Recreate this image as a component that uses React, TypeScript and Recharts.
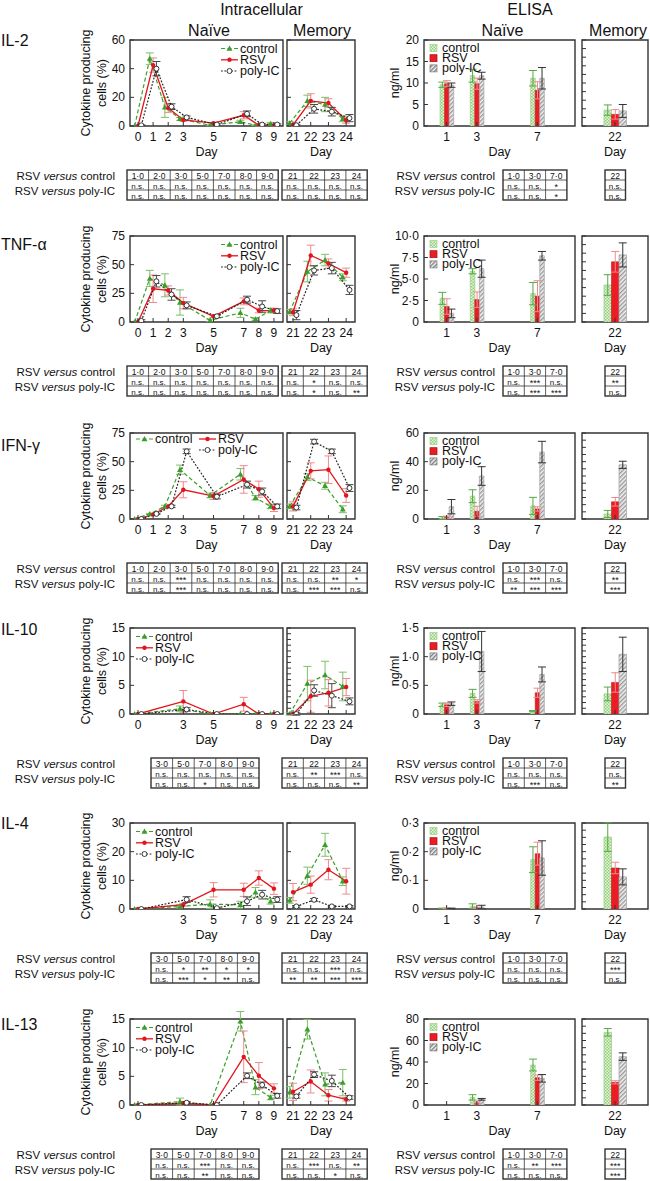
import React from 'react';
import { LineChart, Line, BarChart, Bar, XAxis, YAxis, ErrorBar, ReferenceArea } from 'recharts';

const FONT = '"Liberation Sans", Arial, Helvetica, sans-serif';
const INK = '#111111';
const FRAME = '#333333';
const GREEN = '#3c9d2b';
const GREEN_ERR = '#7cc06a';
const RED = '#e3141b';
const RED_ERR = '#ee8a8e';
const BLACK = '#222222';
const BLACK_ERR = '#4a4a4a';

// ---------- days / categories ----------
const NAIVE_DAYS_FULL = [0, 1, 2, 3, 5, 7, 8, 9];
const NAIVE_DAYS_PART = [0, 3, 5, 7, 8, 9];
const MEMORY_DAYS = [21, 22, 23, 24];
const ELISA_AXIS_DAYS = [0, 1, 2, 3, 4, 5, 6, 7, 8, 9];
const ELISA_DAYS = [1, 3, 7];
const ELISA_MEMORY_DAYS = [22];

// ---------- tick labels ----------
const X_TICKS_FULL = [0, 1, 2, 3, 5, 7, 8, 9];
const X_TICKS_IL10 = [0, 3, 5, 8, 9];
const X_TICKS_IL4 = [3, 5, 7, 8, 9];
const X_TICKS_IL13 = [0, 3, 5, 7, 8, 9];
const X_TICKS_MEMORY = [21, 22, 23, 24];

const IL2_Y_TICKS = [0, 20, 40, 60];
const TNF_Y_TICKS = [0, 25, 50, 75];
const IFN_Y_TICKS = [0, 25, 50, 75];
const IL10_Y_TICKS = [0, 5, 10, 15];
const IL4_Y_TICKS = [0, 10, 20, 30];
const IL13_Y_TICKS = [0, 5, 10, 15];

const IL2_EL_TICKS = [0, 5, 10, 15, 20];
const TNF_EL_TICKS = [0, 2.5, 5, 7.5, 10];
const IFN_EL_TICKS = [0, 20, 40, 60];
const IL10_EL_TICKS = [0, 0.5, 1, 1.5];
const IL4_EL_TICKS = [0, 0.1, 0.2, 0.3];
const IL13_EL_TICKS = [0, 20, 40, 60, 80];

// ---------- IL-2 ----------
const IL2_N_CTL = [0, 47, 13, 5, 0.5, 3, 0.5, 1.5];
const IL2_N_CTL_E = [0, 4, 7, 1, 0.3, 1, 0.3, 1];
const IL2_N_RSV = [0, 42.5, 12.5, 4.2, 2, 7.5, 0.5, 0.5];
const IL2_N_RSV_E = [0, 5, 3, 1, 0.5, 2.5, 0.3, 0.3];
const IL2_N_POLY = [0.5, 40, 13.5, 6, 1, 8.5, 1, 1];
const IL2_N_POLY_E = [0.3, 5, 2, 1, 0.5, 2, 0.5, 0.5];
const IL2_M_CTL = [2, 17.5, 15, 5];
const IL2_M_CTL_E = [1, 4, 5, 2];
const IL2_M_RSV = [0.7, 17.5, 16, 4];
const IL2_M_RSV_E = [0.5, 5, 3, 2];
const IL2_M_POLY = [0.5, 12, 10, 5.5];
const IL2_M_POLY_E = [0.3, 3, 3, 2.5];
const IL2_E_CTL = [9.6, 11.7, 11.1];
const IL2_E_CTL_E = [0.6, 1.5, 1.8];
const IL2_E_RSV = [9.85, 9.85, 8.3];
const IL2_E_RSV_E = [0.7, 1.3, 2];
const IL2_E_POLY = [9.5, 11.7, 11.1];
const IL2_E_POLY_E = [0.5, 0.8, 2.5];
const IL2_EM_CTL = [3.7];
const IL2_EM_CTL_E = [1.2];
const IL2_EM_RSV = [2.7];
const IL2_EM_RSV_E = [1.1];
const IL2_EM_POLY = [3.5];
const IL2_EM_POLY_E = [1.5];

// ---------- TNF-α ----------
const TNF_N_CTL = [0, 38, 32, 17, 1.5, 8, 2.5, 10];
const TNF_N_CTL_E = [0, 7, 10, 11, 1, 4, 1, 2];
const TNF_N_RSV = [0, 29, 27.5, 16.5, 5, 18, 10, 10];
const TNF_N_RSV_E = [0, 12, 4, 5, 1, 3, 2, 2];
const TNF_N_POLY = [1, 35.5, 24, 14.5, 5, 19.5, 13.5, 9.5];
const TNF_N_POLY_E = [1, 5, 5, 3, 1, 3, 5, 2];
const TNF_M_CTL = [9, 44, 54, 39];
const TNF_M_CTL_E = [2, 9, 5, 3];
const TNF_M_RSV = [8.5, 58, 51, 43];
const TNF_M_RSV_E = [3, 9, 4, 4];
const TNF_M_POLY = [6, 45, 47, 28];
const TNF_M_POLY_E = [4, 4, 5, 4];
const TNF_E_CTL = [2.75, 5.9, 3.3];
const TNF_E_CTL_E = [0.7, 0.3, 1.3];
const TNF_E_RSV = [1.8, 2.6, 3.0];
const TNF_E_RSV_E = [0.9, 0.9, 1.8];
const TNF_E_POLY = [1.0, 6.2, 7.7];
const TNF_E_POLY_E = [0.5, 1.0, 0.5];
const TNF_EM_CTL = [4.3];
const TNF_EM_CTL_E = [1.2];
const TNF_EM_RSV = [7.0];
const TNF_EM_RSV_E = [1.2];
const TNF_EM_POLY = [7.8];
const TNF_EM_POLY_E = [1.4];

// ---------- IFN-γ ----------
const IFN_N_CTL = [0, 4.4, 11, 43, 20.5, 39, 18.5, 11];
const IFN_N_CTL_E = [0, 0.5, 1, 4, 2, 5, 2, 2];
const IFN_N_RSV = [0, 4, 11, 25.5, 20, 34.5, 26, 9.5];
const IFN_N_RSV_E = [0, 0.5, 1, 7, 3, 12, 7, 3];
const IFN_N_POLY = [0, 4.5, 11, 59, 19.5, 30, 24, 11];
const IFN_N_POLY_E = [0, 0.5, 1, 2, 2, 3, 3, 2];
const IFN_M_CTL = [11, 36.5, 29, 8.5];
const IFN_M_CTL_E = [2, 3, 3, 3];
const IFN_M_RSV = [11, 42, 43, 20.5];
const IFN_M_RSV_E = [4, 7, 12, 6];
const IFN_M_POLY = [10, 67.5, 59, 27];
const IFN_M_POLY_E = [2, 2, 2, 3];
const IFN_E_CTL = [0.7, 15.9, 9.1];
const IFN_E_CTL_E = [1, 4.5, 6];
const IFN_E_RSV = [1.2, 5.4, 7];
const IFN_E_RSV_E = [0.8, 3.5, 1.5];
const IFN_E_POLY = [8.6, 30, 46.7];
const IFN_E_POLY_E = [5, 6.5, 7.5];
const IFN_EM_CTL = [3.5];
const IFN_EM_CTL_E = [2.5];
const IFN_EM_RSV = [12];
const IFN_EM_RSV_E = [3];
const IFN_EM_POLY = [37.8];
const IFN_EM_POLY_E = [2.5];

// ---------- IL-10 ----------
const IL10_N_CTL = [0, 0.9, 0, 0, 0, 0];
const IL10_N_CTL_E = [0, 0.5, 0, 0, 0, 0];
const IL10_N_RSV = [0, 2.2, 0, 1.7, 0, 0];
const IL10_N_RSV_E = [0, 1.9, 0, 1.2, 0, 0];
const IL10_N_POLY = [0, 0.8, 0, 0, 0, 0];
const IL10_N_POLY_E = [0, 0.3, 0, 0, 0, 0];
const IL10_M_CTL = [0, 5.3, 6.8, 4.8];
const IL10_M_CTL_E = [0.2, 3, 2.4, 2.5];
const IL10_M_RSV = [0, 3.1, 3.7, 4.7];
const IL10_M_RSV_E = [0.2, 2.8, 2.3, 1.5];
const IL10_M_POLY = [0, 4.1, 3.2, 2.2];
const IL10_M_POLY_E = [0.2, 1, 2.1, 0.6];
const IL10_E_CTL = [0.16, 0.36, 0.05];
const IL10_E_CTL_E = [0.03, 0.07, 0.01];
const IL10_E_RSV = [0.16, 0.22, 0.37];
const IL10_E_RSV_E = [0.03, 0.03, 0.08];
const IL10_E_POLY = [0.18, 1.09, 0.69];
const IL10_E_POLY_E = [0.03, 0.35, 0.13];
const IL10_EM_CTL = [0.35];
const IL10_EM_CTL_E = [0.12];
const IL10_EM_RSV = [0.55];
const IL10_EM_RSV_E = [0.17];
const IL10_EM_POLY = [1.04];
const IL10_EM_POLY_E = [0.3];

// ---------- IL-4 ----------
const IL4_N_CTL = [0, 0.9, 1.7, 1.5, 5.8, 2.7];
const IL4_N_CTL_E = [0, 0.5, 1.5, 1.2, 1.7, 1];
const IL4_N_RSV = [0, 1.5, 6.7, 6.7, 10.8, 7.1];
const IL4_N_RSV_E = [0, 0.5, 2.5, 2.3, 2.5, 2];
const IL4_N_POLY = [0, 3.3, 0.3, 2.7, 5, 3.3];
const IL4_N_POLY_E = [0, 1, 0.3, 1.5, 1.5, 1];
const IL4_M_CTL = [3, 11.6, 22.4, 9.7];
const IL4_M_CTL_E = [1, 3, 4, 1.5];
const IL4_M_RSV = [5.9, 8.5, 13.7, 9.7];
const IL4_M_RSV_E = [3, 3, 3.5, 4.5];
const IL4_M_POLY = [0.9, 3.2, 0.9, 0.9];
const IL4_M_POLY_E = [0.3, 0.5, 0.3, 0.3];
const IL4_E_CTL = [0.002, 0.01, 0.172];
const IL4_E_CTL_E = [0.001, 0.008, 0.045];
const IL4_E_RSV = [0.002, 0.004, 0.193];
const IL4_E_RSV_E = [0.001, 0.002, 0.04];
const IL4_E_POLY = [0.002, 0.007, 0.178];
const IL4_E_POLY_E = [0.001, 0.006, 0.06];
const IL4_EM_CTL = [0.251];
const IL4_EM_CTL_E = [0.05];
const IL4_EM_RSV = [0.143];
const IL4_EM_RSV_E = [0.02];
const IL4_EM_POLY = [0.112];
const IL4_EM_POLY_E = [0.028];

// ---------- IL-13 ----------
const IL13_N_CTL = [0, 0.6, 0, 14.6, 3.1, 1.3];
const IL13_N_CTL_E = [0, 0.6, 0, 1.7, 1.3, 0.4];
const IL13_N_RSV = [0, 0.3, 0, 8.4, 5.1, 2.9];
const IL13_N_RSV_E = [0, 0.2, 0, 4.5, 2.3, 0.8];
const IL13_N_POLY = [0, 0.4, 0, 5.1, 3.5, 1.6];
const IL13_N_POLY_E = [0, 0.2, 0, 0.5, 0.5, 0.4];
const IL13_M_CTL = [2.2, 13.2, 3.6, 3.9];
const IL13_M_CTL_E = [1, 1.7, 2, 2.3];
const IL13_M_RSV = [2.3, 4.1, 1.7, 1.0];
const IL13_M_RSV_E = [1.5, 2, 1, 0.3];
const IL13_M_POLY = [1.5, 5.3, 4.2, 1.3];
const IL13_M_POLY_E = [0.3, 0.5, 1, 0.3];
const IL13_E_CTL = [0, 7.1, 37.2];
const IL13_E_CTL_E = [0, 2.5, 5.5];
const IL13_E_RSV = [0, 1.9, 25.4];
const IL13_E_RSV_E = [0, 1, 2.5];
const IL13_E_POLY = [0, 5.3, 24.8];
const IL13_E_POLY_E = [0, 0.8, 3.5];
const IL13_EM_CTL = [67.6];
const IL13_EM_CTL_E = [3.5];
const IL13_EM_RSV = [21.1];
const IL13_EM_RSV_E = [1.5];
const IL13_EM_POLY = [45];
const IL13_EM_POLY_E = [3.5];

// ---------- significance tables ----------
const HEAD_NAIVE_FULL = ['1·0', '2·0', '3·0', '5·0', '7·0', '8·0', '9·0'];
const HEAD_NAIVE_PART = ['3·0', '5·0', '7·0', '8·0', '9·0'];
const HEAD_MEMORY = ['21', '22', '23', '24'];
const HEAD_ELISA = ['1·0', '3·0', '7·0'];
const HEAD_ELISA_MEMORY = ['22'];

const IL2_SIG_N_CTL = ['n.s.', 'n.s.', 'n.s.', 'n.s.', 'n.s.', 'n.s.', 'n.s.'];
const IL2_SIG_N_POLY = ['n.s.', 'n.s.', 'n.s.', 'n.s.', 'n.s.', 'n.s.', 'n.s.'];
const IL2_SIG_M_CTL = ['n.s.', 'n.s.', 'n.s.', 'n.s.'];
const IL2_SIG_M_POLY = ['n.s.', 'n.s.', 'n.s.', 'n.s.'];
const IL2_SIG_E_CTL = ['n.s.', 'n.s.', '*'];
const IL2_SIG_E_POLY = ['n.s.', 'n.s.', '*'];
const IL2_SIG_EM_CTL = ['n.s.'];
const IL2_SIG_EM_POLY = ['n.s.'];

const TNF_SIG_N_CTL = ['n.s.', 'n.s.', 'n.s.', 'n.s.', 'n.s.', 'n.s.', 'n.s.'];
const TNF_SIG_N_POLY = ['n.s.', 'n.s.', 'n.s.', 'n.s.', 'n.s.', 'n.s.', 'n.s.'];
const TNF_SIG_M_CTL = ['n.s.', '*', 'n.s.', 'n.s.'];
const TNF_SIG_M_POLY = ['n.s.', '*', 'n.s.', '**'];
const TNF_SIG_E_CTL = ['n.s.', '***', 'n.s.'];
const TNF_SIG_E_POLY = ['n.s.', '***', '***'];
const TNF_SIG_EM_CTL = ['**'];
const TNF_SIG_EM_POLY = ['n.s.'];

const IFN_SIG_N_CTL = ['n.s.', 'n.s.', '***', 'n.s.', 'n.s.', 'n.s.', 'n.s.'];
const IFN_SIG_N_POLY = ['n.s.', 'n.s.', '***', 'n.s.', 'n.s.', 'n.s.', 'n.s.'];
const IFN_SIG_M_CTL = ['n.s.', 'n.s.', '**', '*'];
const IFN_SIG_M_POLY = ['n.s.', '***', '***', 'n.s.'];
const IFN_SIG_E_CTL = ['n.s.', '***', 'n.s.'];
const IFN_SIG_E_POLY = ['**', '***', '***'];
const IFN_SIG_EM_CTL = ['**'];
const IFN_SIG_EM_POLY = ['***'];

const IL10_SIG_N_CTL = ['n.s.', 'n.s.', 'n.s.', 'n.s.', 'n.s.'];
const IL10_SIG_N_POLY = ['n.s.', 'n.s.', '*', 'n.s.', 'n.s.'];
const IL10_SIG_M_CTL = ['n.s.', '**', '***', 'n.s.'];
const IL10_SIG_M_POLY = ['n.s.', 'n.s.', 'n.s.', '**'];
const IL10_SIG_E_CTL = ['n.s.', 'n.s.', 'n.s.'];
const IL10_SIG_E_POLY = ['n.s.', '***', 'n.s.'];
const IL10_SIG_EM_CTL = ['n.s.'];
const IL10_SIG_EM_POLY = ['**'];

const IL4_SIG_N_CTL = ['n.s.', '*', '**', '*', '*'];
const IL4_SIG_N_POLY = ['n.s.', '***', '*', '**', 'n.s.'];
const IL4_SIG_M_CTL = ['n.s.', 'n.s.', '***', 'n.s.'];
const IL4_SIG_M_POLY = ['**', '**', '***', '***'];
const IL4_SIG_E_CTL = ['n.s.', 'n.s.', 'n.s.'];
const IL4_SIG_E_POLY = ['n.s.', 'n.s.', 'n.s.'];
const IL4_SIG_EM_CTL = ['***'];
const IL4_SIG_EM_POLY = ['n.s.'];

const IL13_SIG_N_CTL = ['n.s.', 'n.s.', '***', 'n.s.', 'n.s.'];
const IL13_SIG_N_POLY = ['n.s.', 'n.s.', '**', 'n.s.', 'n.s.'];
const IL13_SIG_M_CTL = ['n.s.', '***', 'n.s.', '**'];
const IL13_SIG_M_POLY = ['n.s.', 'n.s.', '*', 'n.s.'];
const IL13_SIG_E_CTL = ['n.s.', '**', '***'];
const IL13_SIG_E_POLY = ['n.s.', 'n.s.', 'n.s.'];
const IL13_SIG_EM_CTL = ['***'];
const IL13_SIG_EM_POLY = ['***'];

// ---------- layout ----------
const ROW_TOP = [40, 236, 433, 628, 823, 1019];
const BOX_H = 86;
const NAIVE_X = 130, NAIVE_W = 153;
const MEM_X = 287, MEM_W = 68;
const EL_X = 424, EL_W = 151;
const ELM_X = 582, ELM_W = 66;
const NAIVE_DOMAIN = [-0.53, 9.6];
const MEM_DOMAIN = [20.66, 24.5];
const AXW = 40, MT = 10, MR = 8, AXH = 40;

// ---------- helpers ----------
const nz = (v: number) => (v ? v : null);
function lineData(days: number[], c: number[], ce: number[], r: number[], re: number[], p: number[], pe: number[]) {
  return days.map((day, i) => ({ day, ctl: c[i], ctlE: nz(ce[i]), rsv: r[i], rsvE: nz(re[i]), poly: p[i], polyE: nz(pe[i]) }));
}
function barData(axisDays: number[], days: number[], c: number[], ce: number[], r: number[], re: number[], p: number[], pe: number[]) {
  return axisDays.map((day) => {
    const i = days.indexOf(day);
    if (i < 0) return { day, ctl: null, ctlE: null, rsv: null, rsvE: null, poly: null, polyE: null };
    return { day, ctl: c[i], ctlE: nz(ce[i]), rsv: r[i], rsvE: nz(re[i]), poly: p[i], polyE: nz(pe[i]) };
  });
}
const stepTicks = (max: number, n: number) => Array.from({ length: n + 1 }, (_, i) => (max * i) / n);
const fmtDec = (dec: number) => (v: number) => (v === 0 ? '0' : v.toFixed(dec).replace('.', '·'));

const PANELS = [
  {
    name: 'IL-2', labelY: 40, legend: 'right',
    nData: lineData(NAIVE_DAYS_FULL, IL2_N_CTL, IL2_N_CTL_E, IL2_N_RSV, IL2_N_RSV_E, IL2_N_POLY, IL2_N_POLY_E),
    mData: lineData(MEMORY_DAYS, IL2_M_CTL, IL2_M_CTL_E, IL2_M_RSV, IL2_M_RSV_E, IL2_M_POLY, IL2_M_POLY_E),
    eData: barData(ELISA_AXIS_DAYS, ELISA_DAYS, IL2_E_CTL, IL2_E_CTL_E, IL2_E_RSV, IL2_E_RSV_E, IL2_E_POLY, IL2_E_POLY_E),
    emData: barData(ELISA_MEMORY_DAYS, ELISA_MEMORY_DAYS, IL2_EM_CTL, IL2_EM_CTL_E, IL2_EM_RSV, IL2_EM_RSV_E, IL2_EM_POLY, IL2_EM_POLY_E),
    xTicks: X_TICKS_FULL, yTicks: IL2_Y_TICKS, memYTicks: IL2_Y_TICKS,
    elTicks: IL2_EL_TICKS, elDec: 0, elMemTicks: stepTicks(20, 10),
    sigHead: HEAD_NAIVE_FULL, sigN: [IL2_SIG_N_CTL, IL2_SIG_N_POLY], sigM: [IL2_SIG_M_CTL, IL2_SIG_M_POLY],
    sigE: [IL2_SIG_E_CTL, IL2_SIG_E_POLY], sigEM: [IL2_SIG_EM_CTL, IL2_SIG_EM_POLY],
  },
  {
    name: 'TNF-α', labelY: 244, legend: 'right',
    nData: lineData(NAIVE_DAYS_FULL, TNF_N_CTL, TNF_N_CTL_E, TNF_N_RSV, TNF_N_RSV_E, TNF_N_POLY, TNF_N_POLY_E),
    mData: lineData(MEMORY_DAYS, TNF_M_CTL, TNF_M_CTL_E, TNF_M_RSV, TNF_M_RSV_E, TNF_M_POLY, TNF_M_POLY_E),
    eData: barData(ELISA_AXIS_DAYS, ELISA_DAYS, TNF_E_CTL, TNF_E_CTL_E, TNF_E_RSV, TNF_E_RSV_E, TNF_E_POLY, TNF_E_POLY_E),
    emData: barData(ELISA_MEMORY_DAYS, ELISA_MEMORY_DAYS, TNF_EM_CTL, TNF_EM_CTL_E, TNF_EM_RSV, TNF_EM_RSV_E, TNF_EM_POLY, TNF_EM_POLY_E),
    xTicks: X_TICKS_FULL, yTicks: TNF_Y_TICKS, memYTicks: TNF_Y_TICKS,
    elTicks: TNF_EL_TICKS, elDec: 1, elMemTicks: stepTicks(10, 10),
    sigHead: HEAD_NAIVE_FULL, sigN: [TNF_SIG_N_CTL, TNF_SIG_N_POLY], sigM: [TNF_SIG_M_CTL, TNF_SIG_M_POLY],
    sigE: [TNF_SIG_E_CTL, TNF_SIG_E_POLY], sigEM: [TNF_SIG_EM_CTL, TNF_SIG_EM_POLY],
  },
  {
    name: 'IFN-γ', labelY: 445, legend: 'ifn',
    nData: lineData(NAIVE_DAYS_FULL, IFN_N_CTL, IFN_N_CTL_E, IFN_N_RSV, IFN_N_RSV_E, IFN_N_POLY, IFN_N_POLY_E),
    mData: lineData(MEMORY_DAYS, IFN_M_CTL, IFN_M_CTL_E, IFN_M_RSV, IFN_M_RSV_E, IFN_M_POLY, IFN_M_POLY_E),
    eData: barData(ELISA_AXIS_DAYS, ELISA_DAYS, IFN_E_CTL, IFN_E_CTL_E, IFN_E_RSV, IFN_E_RSV_E, IFN_E_POLY, IFN_E_POLY_E),
    emData: barData(ELISA_MEMORY_DAYS, ELISA_MEMORY_DAYS, IFN_EM_CTL, IFN_EM_CTL_E, IFN_EM_RSV, IFN_EM_RSV_E, IFN_EM_POLY, IFN_EM_POLY_E),
    xTicks: X_TICKS_FULL, yTicks: IFN_Y_TICKS, memYTicks: IFN_Y_TICKS,
    elTicks: IFN_EL_TICKS, elDec: 0, elMemTicks: stepTicks(60, 12),
    sigHead: HEAD_NAIVE_FULL, sigN: [IFN_SIG_N_CTL, IFN_SIG_N_POLY], sigM: [IFN_SIG_M_CTL, IFN_SIG_M_POLY],
    sigE: [IFN_SIG_E_CTL, IFN_SIG_E_POLY], sigEM: [IFN_SIG_EM_CTL, IFN_SIG_EM_POLY],
  },
  {
    name: 'IL-10', labelY: 629, legend: 'left',
    nData: lineData(NAIVE_DAYS_PART, IL10_N_CTL, IL10_N_CTL_E, IL10_N_RSV, IL10_N_RSV_E, IL10_N_POLY, IL10_N_POLY_E),
    mData: lineData(MEMORY_DAYS, IL10_M_CTL, IL10_M_CTL_E, IL10_M_RSV, IL10_M_RSV_E, IL10_M_POLY, IL10_M_POLY_E),
    eData: barData(ELISA_AXIS_DAYS, ELISA_DAYS, IL10_E_CTL, IL10_E_CTL_E, IL10_E_RSV, IL10_E_RSV_E, IL10_E_POLY, IL10_E_POLY_E),
    emData: barData(ELISA_MEMORY_DAYS, ELISA_MEMORY_DAYS, IL10_EM_CTL, IL10_EM_CTL_E, IL10_EM_RSV, IL10_EM_RSV_E, IL10_EM_POLY, IL10_EM_POLY_E),
    xTicks: X_TICKS_IL10, yTicks: IL10_Y_TICKS, memYTicks: stepTicks(15, 15),
    elTicks: IL10_EL_TICKS, elDec: 1, elMemTicks: stepTicks(1.5, 15),
    sigHead: HEAD_NAIVE_PART, sigN: [IL10_SIG_N_CTL, IL10_SIG_N_POLY], sigM: [IL10_SIG_M_CTL, IL10_SIG_M_POLY],
    sigE: [IL10_SIG_E_CTL, IL10_SIG_E_POLY], sigEM: [IL10_SIG_EM_CTL, IL10_SIG_EM_POLY],
  },
  {
    name: 'IL-4', labelY: 823, legend: 'left',
    nData: lineData(NAIVE_DAYS_PART, IL4_N_CTL, IL4_N_CTL_E, IL4_N_RSV, IL4_N_RSV_E, IL4_N_POLY, IL4_N_POLY_E),
    mData: lineData(MEMORY_DAYS, IL4_M_CTL, IL4_M_CTL_E, IL4_M_RSV, IL4_M_RSV_E, IL4_M_POLY, IL4_M_POLY_E),
    eData: barData(ELISA_AXIS_DAYS, ELISA_DAYS, IL4_E_CTL, IL4_E_CTL_E, IL4_E_RSV, IL4_E_RSV_E, IL4_E_POLY, IL4_E_POLY_E),
    emData: barData(ELISA_MEMORY_DAYS, ELISA_MEMORY_DAYS, IL4_EM_CTL, IL4_EM_CTL_E, IL4_EM_RSV, IL4_EM_RSV_E, IL4_EM_POLY, IL4_EM_POLY_E),
    xTicks: X_TICKS_IL4, yTicks: IL4_Y_TICKS, memYTicks: IL4_Y_TICKS,
    elTicks: IL4_EL_TICKS, elDec: 1, elMemTicks: stepTicks(0.3, 12),
    sigHead: HEAD_NAIVE_PART, sigN: [IL4_SIG_N_CTL, IL4_SIG_N_POLY], sigM: [IL4_SIG_M_CTL, IL4_SIG_M_POLY],
    sigE: [IL4_SIG_E_CTL, IL4_SIG_E_POLY], sigEM: [IL4_SIG_EM_CTL, IL4_SIG_EM_POLY],
  },
  {
    name: 'IL-13', labelY: 1024, legend: 'left',
    nData: lineData(NAIVE_DAYS_PART, IL13_N_CTL, IL13_N_CTL_E, IL13_N_RSV, IL13_N_RSV_E, IL13_N_POLY, IL13_N_POLY_E),
    mData: lineData(MEMORY_DAYS, IL13_M_CTL, IL13_M_CTL_E, IL13_M_RSV, IL13_M_RSV_E, IL13_M_POLY, IL13_M_POLY_E),
    eData: barData(ELISA_AXIS_DAYS, ELISA_DAYS, IL13_E_CTL, IL13_E_CTL_E, IL13_E_RSV, IL13_E_RSV_E, IL13_E_POLY, IL13_E_POLY_E),
    emData: barData(ELISA_MEMORY_DAYS, ELISA_MEMORY_DAYS, IL13_EM_CTL, IL13_EM_CTL_E, IL13_EM_RSV, IL13_EM_RSV_E, IL13_EM_POLY, IL13_EM_POLY_E),
    xTicks: X_TICKS_IL13, yTicks: IL13_Y_TICKS, memYTicks: IL13_Y_TICKS,
    elTicks: IL13_EL_TICKS, elDec: 0, elMemTicks: stepTicks(80, 12),
    sigHead: HEAD_NAIVE_PART, sigN: [IL13_SIG_N_CTL, IL13_SIG_N_POLY], sigM: [IL13_SIG_M_CTL, IL13_SIG_M_POLY],
    sigE: [IL13_SIG_E_CTL, IL13_SIG_E_POLY], sigEM: [IL13_SIG_EM_CTL, IL13_SIG_EM_POLY],
  },
];

// ---------- ticks ----------
function makeXTick(labels: number[] | null) {
  return (props: any) => {
    const { x, y, payload } = props;
    const v = payload.value;
    if (labels && !labels.includes(v)) return <g />;
    return (
      <g>
        <line x1={x} x2={x} y1={y} y2={y - 4} stroke={FRAME} strokeWidth={1} />
        <text x={x} y={y + 11} textAnchor="middle" dominantBaseline="central" fontSize={12} fontFamily={FONT} fill={INK}>{v}</text>
      </g>
    );
  };
}
function makeYTick(fmt: ((v: number) => string) | null) {
  return (props: any) => {
    const { x, y, payload } = props;
    return (
      <g>
        <line x1={x} x2={x + 4} y1={y} y2={y} stroke={FRAME} strokeWidth={1} />
        {fmt ? (
          <text x={x - 5} y={y} textAnchor="end" dominantBaseline="central" fontSize={12} fontFamily={FONT} fill={INK}>{fmt(payload.value)}</text>
        ) : null}
      </g>
    );
  };
}

const triDot = (p: any) => {
  if (p.cx == null || p.cy == null) return <g key={`t${p.index}`} />;
  return <polygon key={`t${p.index}`} points={`${p.cx},${p.cy - 3} ${p.cx - 3},${p.cy + 2.2} ${p.cx + 3},${p.cy + 2.2}`} fill={GREEN} />;
};
const redDot = (p: any) => {
  if (p.cx == null || p.cy == null) return <g key={`r${p.index}`} />;
  return <circle key={`r${p.index}`} cx={p.cx} cy={p.cy} r={2.2} fill={RED} />;
};
const openDot = (p: any) => {
  if (p.cx == null || p.cy == null) return <g key={`o${p.index}`} />;
  return <circle key={`o${p.index}`} cx={p.cx} cy={p.cy} r={2.5} fill="#fff" stroke={BLACK} strokeWidth={0.9} />;
};

function LinePanel({ left, top, width, domain, shift, xTicks, yTicks, labels, data }: any) {
  const [lo, hi] = domain;
  const yMax = yTicks[yTicks.length - 1];
  const W = width + AXW + MR;
  const Hh = BOX_H + MT + AXH;
  return (
    <div style={{ position: 'absolute', left: left - AXW, top: top - MT }}>
      <LineChart width={W} height={Hh} data={data} margin={{ top: MT, right: MR, bottom: 0, left: 0 }}>
        <XAxis xAxisId="m" type="number" dataKey="day" domain={[lo, hi]} ticks={xTicks} interval={0} allowDataOverflow height={AXH}
          tickSize={0} tickMargin={0} tickLine={false} axisLine={false} tick={makeXTick(null)} />
        <XAxis xAxisId="c" type="number" dataKey="day" domain={[lo + shift, hi + shift]} allowDataOverflow hide height={0} />
        <XAxis xAxisId="p" type="number" dataKey="day" domain={[lo - shift, hi - shift]} allowDataOverflow hide height={0} />
        <YAxis type="number" domain={[0, yMax]} ticks={yTicks} interval={0} allowDataOverflow width={AXW}
          tickSize={0} tickMargin={0} tickLine={false} axisLine={false} tick={makeYTick(labels ? (v: number) => String(v) : null)} />
        <ReferenceArea xAxisId="m" x1={lo} x2={hi} y1={0} y2={yMax} fill="none" fillOpacity={0} stroke={FRAME} strokeWidth={1.4} ifOverflow="visible" />
        <Line xAxisId="c" type="linear" dataKey="ctl" stroke={GREEN} strokeWidth={1.2} strokeDasharray="4 2.5" dot={triDot} activeDot={false} isAnimationActive={false}>
          <ErrorBar dataKey="ctlE" width={4} stroke={GREEN_ERR} strokeWidth={1} direction="y" />
        </Line>
        <Line xAxisId="m" type="linear" dataKey="rsv" stroke={RED} strokeWidth={1.3} dot={redDot} activeDot={false} isAnimationActive={false}>
          <ErrorBar dataKey="rsvE" width={4} stroke={RED_ERR} strokeWidth={1} direction="y" />
        </Line>
        <Line xAxisId="p" type="linear" dataKey="poly" stroke={BLACK} strokeWidth={1.2} strokeDasharray="1.8 1.6" dot={openDot} activeDot={false} isAnimationActive={false}>
          <ErrorBar dataKey="polyE" width={4} stroke={BLACK_ERR} strokeWidth={1} direction="y" />
        </Line>
      </LineChart>
    </div>
  );
}

function BarPanel({ id, left, top, width, cats, labelCats, barSize, yTicks, fmt, data }: any) {
  const yMax = yTicks[yTicks.length - 1];
  const W = width + AXW + MR;
  const Hh = BOX_H + MT + AXH;
  return (
    <div style={{ position: 'absolute', left: left - AXW, top: top - MT }}>
      <BarChart width={W} height={Hh} data={data} margin={{ top: MT, right: MR, bottom: 0, left: 0 }} barGap={0} barCategoryGap={0}>
        <defs>
          <pattern id={`chk${id}`} width="3" height="3" patternUnits="userSpaceOnUse">
            <rect width="3" height="3" fill="#e4f3dc" />
            <rect width="1.5" height="1.5" fill="#94d07c" />
            <rect x="1.5" y="1.5" width="1.5" height="1.5" fill="#94d07c" />
          </pattern>
          <pattern id={`hat${id}`} width="3" height="3" patternUnits="userSpaceOnUse" patternTransform="rotate(45)">
            <rect width="3" height="3" fill="#f2f2f2" />
            <line x1="0.75" y1="0" x2="0.75" y2="3" stroke="#8a8a8a" strokeWidth="1.2" />
          </pattern>
        </defs>
        <XAxis dataKey="day" type="category" interval={0} height={AXH} tickSize={0} tickMargin={0} tickLine={false} axisLine={false} tick={makeXTick(labelCats)} />
        <YAxis type="number" domain={[0, yMax]} ticks={yTicks} interval={0} allowDataOverflow width={AXW}
          tickSize={0} tickMargin={0} tickLine={false} axisLine={false} tick={makeYTick(fmt)} />
        <ReferenceArea x1={cats[0]} x2={cats[cats.length - 1]} y1={0} y2={yMax} fill="none" fillOpacity={0} stroke={FRAME} strokeWidth={1.4} ifOverflow="visible" />
        <Bar dataKey="ctl" barSize={barSize} fill={`url(#chk${id})`} stroke="#9fd08a" strokeWidth={0.8} isAnimationActive={false}>
          <ErrorBar dataKey="ctlE" width={4} stroke="#55a843" strokeWidth={1} direction="y" />
        </Bar>
        <Bar dataKey="rsv" barSize={barSize} fill="#ec1c24" stroke="#c2161c" strokeWidth={0.6} isAnimationActive={false}>
          <ErrorBar dataKey="rsvE" width={4} stroke={RED_ERR} strokeWidth={1} direction="y" />
        </Bar>
        <Bar dataKey="poly" barSize={barSize} fill={`url(#hat${id})`} stroke="#aaaaaa" strokeWidth={0.8} isAnimationActive={false}>
          <ErrorBar dataKey="polyE" width={4} stroke="#333" strokeWidth={1} direction="y" />
        </Bar>
      </BarChart>
    </div>
  );
}

// ---------- overlay pieces ----------
function LegendLine({ x, y, kind, label }: any) {
  const len = 17, cx = x + len / 2;
  let sample: any;
  if (kind === 'ctl') {
    sample = (
      <g>
        <line x1={x} x2={x + len} y1={y} y2={y} stroke={GREEN} strokeWidth={1.2} strokeDasharray="4 2.5" />
        <polygon points={`${cx},${y - 3} ${cx - 3},${y + 2.2} ${cx + 3},${y + 2.2}`} fill={GREEN} />
      </g>
    );
  } else if (kind === 'rsv') {
    sample = (
      <g>
        <line x1={x} x2={x + len} y1={y} y2={y} stroke={RED} strokeWidth={1.3} />
        <circle cx={cx} cy={y} r={2.2} fill={RED} />
      </g>
    );
  } else {
    sample = (
      <g>
        <line x1={x} x2={x + len} y1={y} y2={y} stroke={BLACK} strokeWidth={1.2} strokeDasharray="1.8 1.6" />
        <circle cx={cx} cy={y} r={2.5} fill="#fff" stroke={BLACK} strokeWidth={0.9} />
      </g>
    );
  }
  return (
    <g>
      {sample}
      <text x={x + len + 2} y={y} dominantBaseline="central" fontSize={12.5} fontFamily={FONT} fill={INK}>{label}</text>
    </g>
  );
}

function LineLegend({ type, T }: any) {
  if (type === 'ifn') {
    return (
      <g>
        <LegendLine x={136} y={T + 6} kind="ctl" label="control" />
        <LegendLine x={199} y={T + 6} kind="rsv" label="RSV" />
        <LegendLine x={199} y={T + 17} kind="poly" label="poly-IC" />
      </g>
    );
  }
  const x = type === 'right' ? 221 : 136;
  return (
    <g>
      <LegendLine x={x} y={T + 8.5} kind="ctl" label="control" />
      <LegendLine x={x} y={T + 19.8} kind="rsv" label="RSV" />
      <LegendLine x={x} y={T + 31} kind="poly" label="poly-IC" />
    </g>
  );
}

function BarLegend({ T }: any) {
  const rows = [
    { label: 'control', fill: 'url(#lchk)', stroke: '#9fd08a' },
    { label: 'RSV', fill: '#ec1c24', stroke: '#a01015' },
    { label: 'poly-IC', fill: 'url(#lhat)', stroke: '#777' },
  ];
  return (
    <g>
      {rows.map((r, i) => (
        <g key={r.label}>
          <rect x={430} y={T + 8 + i * 10.2 - 3.5} width={7} height={7} fill={r.fill} stroke={r.stroke} strokeWidth={0.7} />
          <text x={442} y={T + 8 + i * 10.2} dominantBaseline="central" fontSize={12.5} fontFamily={FONT} fill={INK}>{r.label}</text>
        </g>
      ))}
    </g>
  );
}

function SigTable({ x, y, colW, head, r1, r2 }: any) {
  const n = head.length, w = colW * n, rh = 10;
  const cell = (t: string, i: number, row: number) => {
    const cx = x + colW * (i + 0.5);
    const base = y + rh * (row + 1) - 1.2;
    const star = t.indexOf('*') >= 0;
    return (
      <text key={`${row}-${i}`} x={cx} y={star ? base + 0.8 : base} textAnchor="middle" fontSize={star ? 9 : 8} fontFamily={FONT} fill={INK}>{t}</text>
    );
  };
  return (
    <g>
      <rect x={x} y={y} width={w} height={rh * 3} fill="#fff" stroke={FRAME} strokeWidth={1.4} />
      <line x1={x} x2={x + w} y1={y + rh} y2={y + rh} stroke={FRAME} strokeWidth={0.8} />
      <line x1={x} x2={x + w} y1={y + rh * 2} y2={y + rh * 2} stroke={FRAME} strokeWidth={0.8} />
      {head.slice(1).map((_: string, i: number) => (
        <line key={`v${i}`} x1={x + colW * (i + 1)} x2={x + colW * (i + 1)} y1={y} y2={y + rh * 3} stroke={FRAME} strokeWidth={0.8} />
      ))}
      {head.map((t: string, i: number) => (
        <text key={`h${i}`} x={x + colW * (i + 0.5)} y={y + rh - 1.5} textAnchor="middle" fontSize={8.5} fontFamily={FONT} fill={INK}>{t}</text>
      ))}
      {r1.map((t: string, i: number) => cell(t, i, 1))}
      {r2.map((t: string, i: number) => cell(t, i, 2))}
    </g>
  );
}

function RowLabels({ T, right }: any) {
  const tt = T + BOX_H + 44;
  return (
    <g fontFamily={FONT} fontSize={11.5} fill={INK}>
      <text x={right} y={tt + 6} textAnchor="end" dominantBaseline="central">RSV <tspan fontStyle="italic">versus</tspan> control</text>
      <text x={right} y={tt + 21} textAnchor="end" dominantBaseline="central">RSV <tspan fontStyle="italic">versus</tspan> poly-IC</text>
    </g>
  );
}

export default function App() {
  return (
    <div style={{ position: 'absolute', left: 0, top: 0, width: 650, height: 1181, overflow: 'hidden', background: '#fff', fontFamily: FONT }}>
      {PANELS.map((p, k) => {
        const T = ROW_TOP[k];
        return (
          <React.Fragment key={p.name}>
            <LinePanel left={NAIVE_X} top={T} width={NAIVE_W} domain={NAIVE_DOMAIN} shift={0.22} xTicks={p.xTicks} yTicks={p.yTicks} labels data={p.nData} />
            <LinePanel left={MEM_X} top={T} width={MEM_W} domain={MEM_DOMAIN} shift={0.19} xTicks={X_TICKS_MEMORY} yTicks={p.memYTicks} labels={false} data={p.mData} />
            <BarPanel id={`e${k}`} left={EL_X} top={T} width={EL_W} cats={ELISA_AXIS_DAYS} labelCats={ELISA_DAYS} barSize={6} yTicks={p.elTicks} fmt={fmtDec(p.elDec)} data={p.eData} />
            <BarPanel id={`m${k}`} left={ELM_X} top={T} width={ELM_W} cats={ELISA_MEMORY_DAYS} labelCats={ELISA_MEMORY_DAYS} barSize={7.5} yTicks={p.elMemTicks} fmt={null} data={p.emData} />
          </React.Fragment>
        );
      })}
      <svg width={650} height={1181} style={{ position: 'absolute', left: 0, top: 0, pointerEvents: 'none' }}>
        <defs>
          <pattern id="lchk" width="3" height="3" patternUnits="userSpaceOnUse">
            <rect width="3" height="3" fill="#e4f3dc" />
            <rect width="1.5" height="1.5" fill="#94d07c" />
            <rect x="1.5" y="1.5" width="1.5" height="1.5" fill="#94d07c" />
          </pattern>
          <pattern id="lhat" width="3" height="3" patternUnits="userSpaceOnUse" patternTransform="rotate(45)">
            <rect width="3" height="3" fill="#f2f2f2" />
            <line x1="0.75" y1="0" x2="0.75" y2="3" stroke="#6a6a6a" strokeWidth="1.2" />
          </pattern>
        </defs>
        <g fontFamily={FONT} fill={INK}>
          <text x={261.5} y={9} textAnchor="middle" dominantBaseline="central" fontSize={16}>Intracellular</text>
          <text x={530} y={9} textAnchor="middle" dominantBaseline="central" fontSize={16}>ELISA</text>
          <text x={209} y={30} textAnchor="middle" dominantBaseline="central" fontSize={16}>Naïve</text>
          <text x={322} y={30} textAnchor="middle" dominantBaseline="central" fontSize={16}>Memory</text>
          <text x={502.5} y={30} textAnchor="middle" dominantBaseline="central" fontSize={16}>Naïve</text>
          <text x={618} y={30} textAnchor="middle" dominantBaseline="central" fontSize={16}>Memory</text>
        </g>
        {PANELS.map((p, k) => {
          const T = ROW_TOP[k];
          const tt = T + BOX_H + 44;
          const mid = T + BOX_H / 2;
          const naiveX = p.sigHead.length === 7 ? 127 : 151;
          return (
            <g key={p.name}>
              <text x={1} y={p.labelY} dominantBaseline="central" fontSize={16} fontFamily={FONT} fill={INK}>{p.name}</text>
              <text transform={`translate(86, ${mid}) rotate(-90)`} textAnchor="middle" dominantBaseline="central" fontSize={12.5} fontFamily={FONT} fill={INK}>Cytokine producing</text>
              <text transform={`translate(102, ${mid}) rotate(-90)`} textAnchor="middle" dominantBaseline="central" fontSize={12.5} fontFamily={FONT} fill={INK}>cells (%)</text>
              <text transform={`translate(395, ${mid}) rotate(-90)`} textAnchor="middle" dominantBaseline="central" fontSize={12.5} fontFamily={FONT} fill={INK}>ng/ml</text>
              {[NAIVE_X + NAIVE_W / 2, MEM_X + MEM_W / 2, EL_X + EL_W / 2, ELM_X + ELM_W / 2].map((cx, i) => (
                <text key={i} x={cx} y={T + BOX_H + 26} textAnchor="middle" dominantBaseline="central" fontSize={12.5} fontFamily={FONT} fill={INK}>Day</text>
              ))}
              <LineLegend type={p.legend} T={T} />
              <BarLegend T={T} />
              <RowLabels T={T} right={115} />
              <RowLabels T={T} right={495} />
              <SigTable x={naiveX} y={tt} colW={21.6} head={p.sigHead} r1={p.sigN[0]} r2={p.sigN[1]} />
              <SigTable x={282} y={tt} colW={21.3} head={HEAD_MEMORY} r1={p.sigM[0]} r2={p.sigM[1]} />
              <SigTable x={503} y={tt} colW={21.3} head={HEAD_ELISA} r1={p.sigE[0]} r2={p.sigE[1]} />
              <SigTable x={605} y={tt} colW={20.5} head={HEAD_ELISA_MEMORY} r1={p.sigEM[0]} r2={p.sigEM[1]} />
            </g>
          );
        })}
      </svg>
    </div>
  );
}
